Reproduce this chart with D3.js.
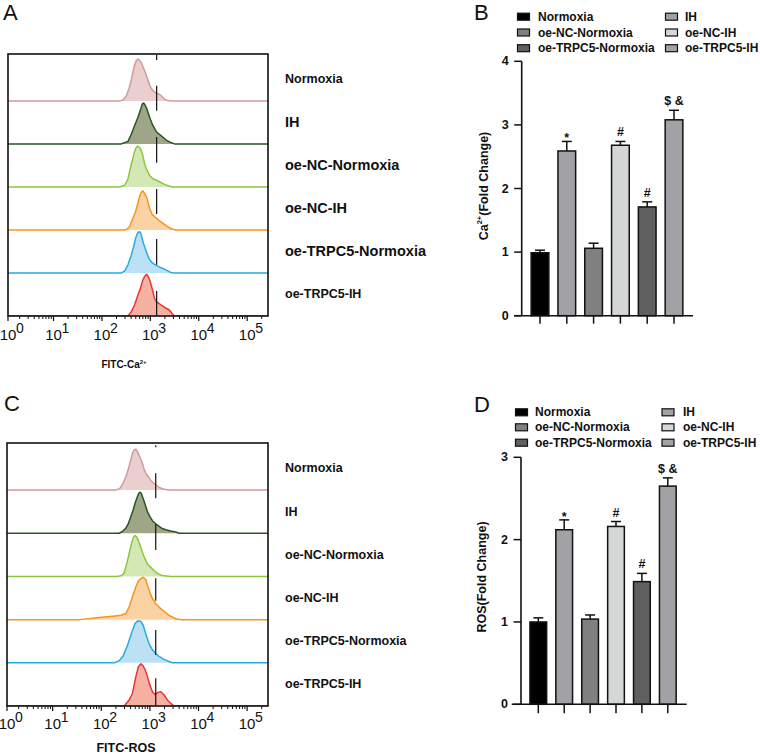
<!DOCTYPE html>
<html><head><meta charset="utf-8">
<script src="https://cdn.jsdelivr.net/npm/d3@7"></script>
<style>body{margin:0;background:#fff} svg{display:block;font-family:Arial,"Liberation Sans",sans-serif}</style>
</head><body>
<svg id="c" width="760" height="754"></svg>
<script>
// ---------------- DATA ----------------
const groups = ["Normoxia","IH","oe-NC-Normoxia","oe-NC-IH","oe-TRPC5-Normoxia","oe-TRPC5-IH"];
const histRowLabels = ["Normoxia","IH","oe-NC-Normoxia","oe-NC-IH","oe-TRPC5-Normoxia","oe-TRPC5-IH"];
const decadeTicks = [0,1,2,3,4,5];

// histograms: [log10 fluorescence, relative count]
const histCaNormoxia = [[2.368,0],[2.436,0.02],[2.506,0.12],[2.559,0.29],[2.608,0.49],[2.641,0.68],[2.676,0.84],[2.711,0.94],[2.744,0.97],[2.778,0.94],[2.813,0.89],[2.846,0.80],[2.902,0.64],[2.949,0.49],[2.998,0.33],[3.051,0.24],[3.121,0.18],[3.174,0.16],[3.224,0.12],[3.291,0.04],[3.359,0.01],[3.428,0]];
const histCaIH = [[2.40,0],[2.436,0.015],[2.538,0.06],[2.608,0.23],[2.676,0.43],[2.744,0.62],[2.793,0.78],[2.834,0.93],[2.861,0.95],[2.887,0.91],[2.916,0.85],[2.949,0.74],[2.998,0.58],[3.051,0.43],[3.121,0.29],[3.189,0.22],[3.256,0.16],[3.326,0.09],[3.408,0.04],[3.497,0]];
const histCaNCNormoxia = [[2.368,0],[2.471,0.04],[2.538,0.19],[2.587,0.43],[2.628,0.62],[2.662,0.78],[2.696,0.89],[2.731,0.95],[2.764,0.93],[2.793,0.89],[2.834,0.78],[2.881,0.54],[2.928,0.39],[2.984,0.27],[3.051,0.19],[3.121,0.16],[3.189,0.12],[3.291,0.06],[3.394,0.015],[3.462,0]];
const histCaNCIH = [[2.45,0],[2.506,0.01],[2.573,0.08],[2.641,0.27],[2.696,0.43],[2.744,0.62],[2.778,0.78],[2.813,0.88],[2.846,0.91],[2.881,0.85],[2.916,0.78],[2.949,0.66],[2.984,0.50],[3.039,0.36],[3.086,0.31],[3.133,0.27],[3.189,0.21],[3.256,0.16],[3.326,0.10],[3.394,0.05],[3.462,0.015],[3.531,0]];
const histCaTRPC5Normoxia = [[2.403,0],[2.471,0.05],[2.538,0.19],[2.608,0.42],[2.655,0.61],[2.696,0.81],[2.731,0.92],[2.764,0.96],[2.793,0.95],[2.813,0.88],[2.846,0.73],[2.881,0.61],[2.916,0.50],[2.969,0.34],[3.018,0.26],[3.086,0.20],[3.154,0.16],[3.224,0.12],[3.291,0.09],[3.359,0.05],[3.428,0.01],[3.476,0]];
const histCaTRPC5IH = [[2.538,0],[2.608,0.10],[2.676,0.26],[2.744,0.49],[2.793,0.64],[2.834,0.80],[2.867,0.89],[2.902,0.95],[2.928,0.97],[2.957,0.91],[2.984,0.84],[3.018,0.72],[3.051,0.57],[3.086,0.41],[3.133,0.33],[3.189,0.28],[3.256,0.23],[3.326,0.18],[3.394,0.14],[3.449,0.06],[3.497,0]];

const histRosNormoxia = [[2.300,0],[2.383,0.04],[2.450,0.16],[2.506,0.31],[2.559,0.50],[2.608,0.70],[2.641,0.85],[2.676,0.93],[2.711,0.95],[2.744,0.89],[2.778,0.81],[2.813,0.71],[2.846,0.62],[2.881,0.48],[2.916,0.39],[2.969,0.31],[3.018,0.23],[3.066,0.17],[3.121,0.12],[3.189,0.06],[3.291,0.02],[3.394,0]];
const histRosIH = [[2.368,0],[2.436,0.04],[2.506,0.12],[2.559,0.23],[2.608,0.39],[2.655,0.54],[2.696,0.70],[2.731,0.81],[2.764,0.91],[2.793,0.95],[2.820,0.93],[2.846,0.85],[2.881,0.74],[2.916,0.62],[2.949,0.50],[2.998,0.39],[3.051,0.29],[3.121,0.22],[3.189,0.16],[3.256,0.11],[3.326,0.08],[3.428,0.05],[3.531,0.03],[3.599,0]];
const histRosNCNormoxia = [[2.327,0],[2.420,0.02],[2.471,0.08],[2.538,0.36],[2.587,0.60],[2.628,0.79],[2.662,0.91],[2.696,0.95],[2.731,0.91],[2.764,0.83],[2.813,0.67],[2.846,0.56],[2.902,0.40],[2.949,0.29],[3.018,0.21],[3.086,0.13],[3.189,0.05],[3.256,0.02],[3.428,0]];
const histRosNCIH = [[1.549,0],[1.958,0.05],[2.231,0.08],[2.403,0.10],[2.506,0.14],[2.573,0.29],[2.641,0.53],[2.711,0.76],[2.764,0.90],[2.813,0.95],[2.861,0.98],[2.916,0.93],[2.949,0.80],[2.998,0.64],[3.051,0.49],[3.121,0.37],[3.189,0.29],[3.256,0.22],[3.326,0.16],[3.394,0.10],[3.462,0.06],[3.531,0.02],[3.634,0]];
const histRosTRPC5Normoxia = [[2.266,0],[2.368,0.05],[2.450,0.16],[2.538,0.40],[2.628,0.71],[2.696,0.91],[2.744,0.97],[2.813,0.96],[2.861,0.87],[2.916,0.67],[2.984,0.44],[3.051,0.30],[3.121,0.21],[3.189,0.15],[3.291,0.08],[3.394,0.03],[3.462,0]];
const histRosTRPC5IH = [[2.471,0],[2.573,0.14],[2.641,0.29],[2.711,0.68],[2.764,0.91],[2.813,0.98],[2.861,0.93],[2.902,0.84],[2.949,0.68],[2.998,0.49],[3.051,0.33],[3.107,0.26],[3.154,0.31],[3.224,0.33],[3.291,0.26],[3.359,0.14],[3.428,0.06],[3.497,0]];

// gate marker (log10) and its segments in stacked-row units
const gateLogCa = 3.13;
const gateLogRos = 3.12;
const gateSegCa = [[6.07,5.95],[5.35,4.77],[4.16,3.56],[2.95,2.37],[1.79,1.19],[0.58,0]];
const gateSegRos = [[6.04,5.99],[5.39,4.81],[4.21,3.61],[2.96,2.44],[1.76,1.18],[0.64,0]];

// bar charts
const caMeans = [0.99, 2.59, 1.06, 2.68, 1.71, 3.08];
const caErrors = [0.04, 0.15, 0.08, 0.06, 0.08, 0.15];
const rosMeans = [1.00, 2.12, 1.035, 2.16, 1.49, 2.65];
const rosErrors = [0.05, 0.12, 0.05, 0.06, 0.10, 0.10];
const sigMarks = ["", "*", "", "#", "#", "$ &"];
const caTicks = [0,1,2,3,4];
const rosTicks = [0,1,2,3];

// ---------------- STYLE ----------------
const lineColors = ["#d09b9b","#2a5626","#8cc63f","#f7941d","#29abe2","#ee3338"];
const fillColors = ["#ebcfcf","#9ea687","#d4e8b6","#fbd2a4","#bde1f4","#f5b2a3"];
const barColors = ["#000000","#a2a2a6","#808080","#d5d7d7","#606060","#a2a2a6"];

const svg = d3.select("#c");

function histPanel(o){
  const g = svg.append("g");
  const x = d3.scaleLog().domain([Math.pow(10,0.06), Math.pow(10,5.43)]).range([o.left, o.right]);
  const y = d3.scaleLinear().domain([0, 6.09]).range([o.bottom, o.top]);
  const clipId = "clip" + o.id;
  svg.append("clipPath").attr("id", clipId).append("rect")
    .attr("x", o.left).attr("y", o.top).attr("width", o.right-o.left).attr("height", o.bottom-o.top);
  const inner = g.append("g").attr("clip-path", `url(#${clipId})`);
  const dmin = 0.06, dmax = 5.43;
  o.data.forEach((h, i) => {
    const row = 5 - i;
    const area = d3.area().x(d => x(Math.pow(10,d[0]))).y0(y(row)).y1(d => y(row + d[1]));
    const line = d3.line().x(d => x(Math.pow(10,d[0]))).y(d => y(row + d[1]));
    inner.append("path").attr("d", area(h)).attr("fill", fillColors[i]);
    const full = [[dmin,0]].concat(h, [[dmax,0]]);
    inner.append("path").attr("d", line(full)).attr("fill","none")
      .attr("stroke", lineColors[i]).attr("stroke-width", 1.5).attr("stroke-linejoin","round");
  });
  // gate segments
  o.segs.forEach(s => {
    inner.append("line").attr("x1", x(Math.pow(10,o.gate))).attr("x2", x(Math.pow(10,o.gate)))
      .attr("y1", y(s[0])).attr("y2", y(s[1])).attr("stroke","#111").attr("stroke-width",1.2);
  });
  // frame
  g.append("rect").attr("x", o.left).attr("y", o.top).attr("width", o.right-o.left).attr("height", o.bottom-o.top)
    .attr("fill","none").attr("stroke","#111").attr("stroke-width",1.6);
  // ticks
  const minor = [];
  for (let k=0;k<=5;k++) for (let m=2;m<=9;m++){ const v=m*Math.pow(10,k); const px=x(v); if(px>o.left+1 && px<o.right-1) minor.push(v); }
  g.selectAll(null).data(minor).enter().append("line")
    .attr("x1", d=>x(d)).attr("x2", d=>x(d)).attr("y1", o.bottom).attr("y2", o.bottom+3)
    .attr("stroke","#111").attr("stroke-width",1);
  const majorPos = k => Math.max(x(Math.pow(10,k)), o.left);
  g.selectAll(null).data(decadeTicks).enter().append("line")
    .attr("x1", majorPos).attr("x2", majorPos).attr("y1", o.bottom).attr("y2", o.bottom+5)
    .attr("stroke","#111").attr("stroke-width",1.2);
  decadeTicks.forEach(k => {
    const px = majorPos(k);
    g.append("text").attr("x", px).attr("y", o.bottom + o.tickDy).attr("text-anchor","middle")
      .attr("font-size", 15).attr("fill","#111").text("10");
    g.append("text").attr("x", px + 8).attr("y", o.bottom + o.tickDy - 7).attr("text-anchor","start")
      .attr("font-size", 14).attr("fill","#111").text(String(k));
  });
  // row labels
  histRowLabels.forEach((t, i) => {
    g.append("text").attr("x", 285).attr("y", y(5 - i + 0.5)).attr("dominant-baseline","central")
      .attr("font-size", o.labelSizes[i]).attr("font-weight","bold").attr("fill","#111").text(t);
  });
  // axis title
  const tt = g.append("text").attr("x", o.titleX).attr("y", o.titleY).attr("text-anchor","middle")
    .attr("font-weight","bold").attr("font-size", o.titleSize).attr("fill","#111");
  tt.append("tspan").text(o.title);
  if (o.titleSup) tt.append("tspan").attr("font-size", o.titleSize*0.6).attr("dy", -4).text(o.titleSup);
}

histPanel({id:"A", left:8, right:268, top:54, bottom:316, tickDy:24,
  data:[histCaNormoxia,histCaIH,histCaNCNormoxia,histCaNCIH,histCaTRPC5Normoxia,histCaTRPC5IH],
  gate:gateLogCa, segs:gateSegCa, labelSizes:[12.5,14.5,14.5,14.5,14.5,12.5],
  title:"FITC-Ca", titleSup:"2+", titleX:124, titleY:368, titleSize:10});
histPanel({id:"C", left:7, right:268, top:443, bottom:706, tickDy:22.5,
  data:[histRosNormoxia,histRosIH,histRosNCNormoxia,histRosNCIH,histRosTRPC5Normoxia,histRosTRPC5IH],
  gate:gateLogRos, segs:gateSegRos, labelSizes:[12.5,12.5,12.5,12.5,12.5,12.5],
  title:"FITC-ROS", titleSup:null, titleX:126, titleY:752, titleSize:12.5});

function barPanel(o){
  const g = svg.append("g");
  const y = d3.scaleLinear().domain([0, o.ticks[o.ticks.length-1]]).range([o.y0, o.yTop]);
  const x = d3.scaleBand().domain(groups).range(o.band).paddingInner(o.padIn).paddingOuter(o.padIn/2);
  const bw = x.bandwidth();
  // bars
  g.selectAll(null).data(groups).enter().append("rect")
    .attr("x", d => x(d)).attr("width", bw)
    .attr("y", (d,i) => y(o.means[i])).attr("height", (d,i) => y(0) - y(o.means[i]))
    .attr("fill", (d,i) => barColors[i]).attr("stroke","#111").attr("stroke-width",1.5);
  // error bars
  groups.forEach((d,i) => {
    const cx = x(d) + bw/2, top = y(o.means[i] + o.errors[i]);
    g.append("line").attr("x1",cx).attr("x2",cx).attr("y1",y(o.means[i])).attr("y2",top)
      .attr("stroke","#111").attr("stroke-width",1.5);
    g.append("line").attr("x1",cx-5).attr("x2",cx+5).attr("y1",top).attr("y2",top)
      .attr("stroke","#111").attr("stroke-width",1.5);
    if (o.marks[i]) {
      const dy = o.marks[i] === "*" ? 1 : -5;
      g.append("text").attr("x",cx).attr("y",top+dy).attr("text-anchor","middle")
        .attr("font-size",12.5).attr("font-weight","bold").attr("fill","#111").text(o.marks[i]);
    }
    g.append("line").attr("x1",cx).attr("x2",cx).attr("y1",o.y0).attr("y2",o.y0+o.tickDown)
      .attr("stroke","#111").attr("stroke-width",1.5);
  });
  // axes
  g.append("line").attr("x1", o.axisX).attr("x2", o.axisX).attr("y1", y(0)).attr("y2", o.yTop)
    .attr("stroke","#111").attr("stroke-width",1.6);
  g.append("line").attr("x1", o.xStart).attr("x2", o.xEnd).attr("y1", y(0)).attr("y2", y(0))
    .attr("stroke","#111").attr("stroke-width",1.6);
  g.selectAll(null).data(o.ticks).enter().append("line")
    .attr("x1", o.axisX - 7.5).attr("x2", o.axisX).attr("y1", d=>y(d)).attr("y2", d=>y(d))
    .attr("stroke","#111").attr("stroke-width",1.5);
  g.selectAll(null).data(o.ticks).enter().append("text")
    .attr("x", o.axisX - 13).attr("y", d=>y(d)).attr("text-anchor","end").attr("dominant-baseline","central")
    .attr("font-size",12.5).attr("font-weight","bold").attr("fill","#111").text(d=>d);
  // y title
  const t = g.append("text").attr("transform", `translate(${o.titleX},${o.titleY}) rotate(-90)`)
    .attr("text-anchor","middle").attr("font-size",12.5).attr("font-weight","bold").attr("fill","#111")
    .attr("dominant-baseline","central");
  o.title.forEach(p => { const s = t.append("tspan").text(p.t); if (p.sup) s.attr("font-size",7.5).attr("dy",-5); if (p.after) s.attr("dy",5); });
  // legend
  groups.forEach((d,i) => {
    const col = i % 2, row = Math.floor(i/2);
    const ly = o.legendY[row];
    g.append("rect").attr("x", o.legSq[col]).attr("y", ly-3.5).attr("width",12).attr("height",7)
      .attr("fill", barColors[i]).attr("stroke","#111").attr("stroke-width",1.2);
    g.append("text").attr("x", o.legTx[col]).attr("y", ly).attr("dominant-baseline","central")
      .attr("font-size",12).attr("font-weight","bold").attr("fill","#111").text(d);
  });
  g.append("text").attr("x", o.letterX).attr("y", o.letterY).attr("font-size",22).attr("fill","#111").text(o.letter);
}

barPanel({letter:"B", letterX:474, letterY:20, means:caMeans, errors:caErrors, marks:sigMarks, ticks:caTicks,
  y0:315.7, yTop:61.3, band:[526.6,687.4], padIn:0.34, axisX:521.7, xStart:514, xEnd:693, tickDown:8,
  title:[{t:"Ca"},{t:"2+",sup:true},{t:"(Fold Change)",after:true}], titleX:484, titleY:186,
  legendY:[16.7,32.5,48.2], legSq:[517.5,665.5], legTx:[538,685]});
barPanel({letter:"D", letterX:474, letterY:412, means:rosMeans, errors:rosErrors, marks:sigMarks, ticks:rosTicks,
  y0:704.3, yTop:457.3, band:[525.35,680.75], padIn:0.355, axisX:521, xStart:511.7, xEnd:686.7, tickDown:9,
  title:[{t:"ROS(Fold Change)"}], titleX:482, titleY:577,
  legendY:[412.3,427.3,442.7], legSq:[515.5,662], legTx:[535,683]});

svg.append("text").attr("x",3).attr("y",20).attr("font-size",22).attr("fill","#111").text("A");
svg.append("text").attr("x",4).attr("y",411).attr("font-size",22).attr("fill","#111").text("C");
</script>
</body></html>
